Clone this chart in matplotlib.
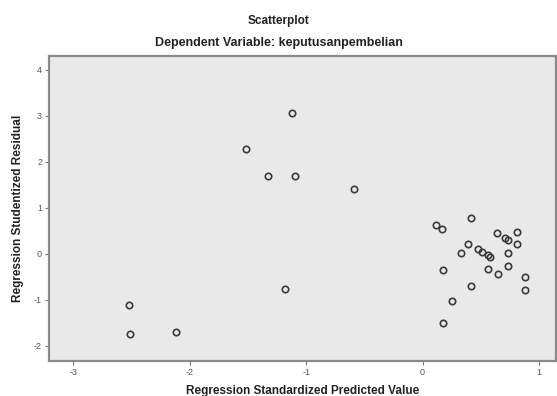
import matplotlib
matplotlib.use("Agg")
import matplotlib.pyplot as plt

plt.rcParams["font.family"] = ["Liberation Sans", "DejaVu Sans"]

# Regression standardized predicted value (x) vs studentized residual (y)
pred = [-2.523, -2.511, -2.121, -1.519, -1.328, -1.118, -1.098, -0.591, -1.184,
        0.413, 0.114, 0.169, 0.636, 0.814, 0.708, 0.733, 0.808, 0.392,
        0.473, 0.507, 0.327, 0.564, 0.579, 0.731, 0.561, 0.177, 0.731,
        0.645, 0.880, 0.880, 0.413, 0.252, 0.177]
resid = [-1.116, -1.746, -1.703, 2.276, 1.70, 3.06, 1.69, 1.41, -0.754,
         0.776, 0.623, 0.543, 0.449, 0.478, 0.341, 0.311, 0.203, 0.224,
         0.102, 0.05, 0.029, -0.03, -0.058, 0.029, -0.319, -0.341, -0.268,
         -0.435, -0.493, -0.783, -0.689, -1.03, -1.507]

xticks = [-3, -2, -1, 0, 1]
yticks = [-2, -1, 0, 1, 2, 3, 4]

fig = plt.figure(figsize=(5.57, 3.96), dpi=100)
ax = fig.add_axes([0.088, 0.0884, 0.910, 0.770])
ax.set_facecolor("#e9e9e9")

ax.plot(pred, resid, linestyle="none", marker="o", markersize=4.6,
        markerfacecolor="none", markeredgecolor="#3a3a3a", markeredgewidth=1.2)

ax.set_xlim(-3.21, 1.146)
ax.set_ylim(-2.33, 4.30)
ax.set_xticks(xticks)
ax.set_yticks(yticks)
ax.set_xticklabels([str(t) for t in xticks])
ax.set_yticklabels([str(t) for t in yticks])
ax.tick_params(direction="out", length=3, width=0.8, color="#777777",
               labelsize=6.5, labelcolor="#555555", pad=2)

for side in ["left", "bottom", "top", "right"]:
    ax.spines[side].set_color("#8a8a8a")
    ax.spines[side].set_linewidth(1.6)

ax.set_xlabel("Regression Standardized Predicted Value", fontsize=8.5,
              fontweight="bold", color="#222222", labelpad=6)
ax.set_ylabel("Regression Studentized Residual", fontsize=8.5,
              fontweight="bold", color="#222222", labelpad=7)

fig.text(0.5, 0.947, "Scatterplot", ha="center", va="center",
         fontsize=8.5, fontweight="bold", color="#222222")
fig.text(0.5, 0.892, "Dependent Variable: keputusanpembelian", ha="center",
         va="center", fontsize=9, fontweight="bold", color="#222222")

plt.savefig("out.png", dpi=100)
plt.close()
